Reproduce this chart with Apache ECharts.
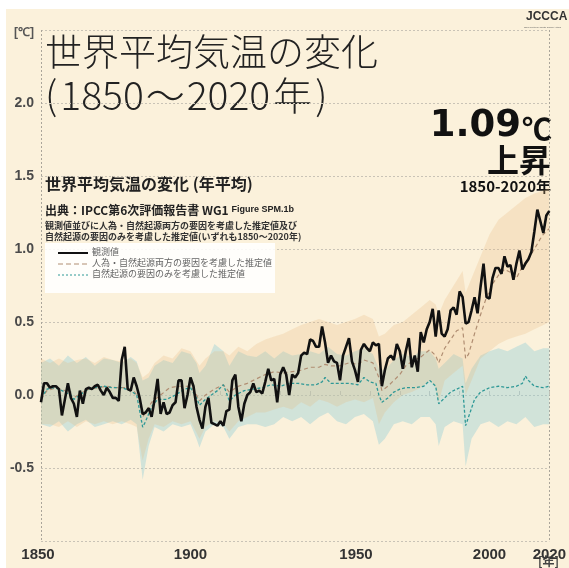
<!DOCTYPE html>
<html><head><meta charset="utf-8">
<script src="https://cdn.jsdelivr.net/npm/echarts@6/dist/echarts.min.js"></script>
<style>
html,body{margin:0;padding:0;background:#fff;}
#bg{position:absolute;left:6px;top:9px;width:563px;height:559px;background:#fbf1db;}
#c{position:absolute;left:0;top:0;width:569px;height:568px;}
</style></head><body>
<div id="bg"></div><div id="c"></div>
<script>
// ---- data ----
const years = [];
for (let y = 1850; y <= 2020; y++) years.push(y);
const observed = [
-0.05,0.08,0.08,0.05,0.06,0.06,0.04,-0.14,-0.03,0.08,
-0.02,-0.06,-0.15,0.03,-0.06,0.04,0.05,0.04,0.06,0.07,
0.03,0.00,0.05,0.02,-0.02,-0.02,-0.04,0.24,0.33,0.04,
0.03,0.12,0.06,-0.02,-0.13,-0.12,-0.09,-0.15,-0.03,0.11,
-0.13,-0.05,-0.13,-0.12,-0.07,-0.05,0.10,0.10,-0.09,0.00,
0.12,0.06,-0.08,-0.17,-0.23,-0.08,-0.02,-0.19,-0.20,-0.21,
-0.18,-0.21,-0.11,-0.10,0.10,0.14,-0.08,-0.18,-0.06,0.00,
0.02,0.08,0.02,0.03,0.01,0.09,0.18,0.10,0.11,-0.05,
0.14,0.19,0.14,0.00,0.14,0.12,0.15,0.27,0.29,0.28,
0.38,0.37,0.33,0.33,0.47,0.36,0.22,0.27,0.23,0.22,
0.10,0.27,0.33,0.39,0.23,0.17,0.09,0.31,0.35,0.32,
0.30,0.36,0.34,0.35,0.06,0.17,0.25,0.27,0.24,0.35,
0.30,0.18,0.30,0.39,0.19,0.27,0.16,0.43,0.36,0.45,
0.50,0.59,0.40,0.58,0.42,0.40,0.45,0.58,0.60,0.55,
0.71,0.67,0.49,0.50,0.58,0.67,0.56,0.74,0.90,0.67,
0.66,0.80,0.87,0.87,0.83,0.95,0.88,0.89,0.79,0.90,
0.99,0.86,0.90,0.93,0.98,1.12,1.27,1.19,1.11,1.23,
1.26];
const humanNaturalYears = [1850,1852,1855,1858,1861,1863,1866,1869,1872,1875,1878,1881,1883,1884,1885,1887,1890,1893,1896,1899,1901,1903,1905,1908,1911,1913,1916,1919,1922,1925,1928,1931,1934,1937,1940,1943,1945,1947,1950,1953,1956,1958,1961,1963,1964,1966,1968,1970,1972,1974,1977,1980,1982,1983,1985,1987,1989,1991,1992,1993,1995,1997,1999,2001,2003,2005,2007,2009,2011,2013,2015,2017,2018,2020];
const humanNaturalValues = [-0.03,0.03,0.05,0.03,-0.02,0.01,0.04,0.05,0.06,0.05,0.05,0.03,-0.03,-0.15,-0.12,-0.05,0.00,0.05,0.06,0.06,0.04,-0.04,0.00,0.04,0.07,0.02,0.06,0.08,0.11,0.14,0.16,0.15,0.16,0.17,0.19,0.19,0.21,0.20,0.20,0.22,0.21,0.24,0.22,0.12,0.03,0.06,0.10,0.14,0.20,0.23,0.26,0.31,0.27,0.22,0.32,0.38,0.44,0.46,0.25,0.28,0.42,0.55,0.67,0.76,0.82,0.86,0.84,0.80,0.88,0.93,1.00,1.07,1.10,1.14];
const naturalYears = [1850,1852,1854,1856,1858,1860,1861,1863,1865,1868,1871,1874,1877,1880,1882,1884,1885,1887,1889,1892,1895,1898,1900,1902,1903,1905,1907,1909,1911,1913,1915,1918,1921,1924,1927,1930,1933,1936,1939,1942,1944,1945,1947,1950,1953,1956,1958,1960,1962,1963,1964,1966,1968,1970,1972,1975,1978,1980,1982,1983,1985,1987,1989,1991,1992,1993,1995,1997,2000,2003,2006,2009,2011,2012,2013,2015,2018,2020];
const naturalValues = [-0.02,0.04,0.05,0.04,0.02,0.00,-0.03,0.00,0.03,0.05,0.06,0.05,0.05,0.03,0.00,-0.22,-0.18,-0.08,-0.03,-0.03,0.00,0.04,0.05,-0.02,-0.07,-0.03,0.00,0.03,0.07,-0.04,0.00,0.03,0.04,0.05,0.07,0.06,0.08,0.08,0.07,0.07,0.09,0.12,0.08,0.08,0.08,0.07,0.12,0.09,0.08,0.00,-0.05,-0.02,0.02,0.04,0.05,0.05,0.06,0.10,0.06,-0.06,-0.02,0.02,0.04,0.06,-0.21,-0.15,-0.03,0.02,0.05,0.06,0.05,0.06,0.08,0.13,0.10,0.06,0.05,0.06];
const naturalBandYears = [1850,1853,1856,1859,1862,1865,1868,1871,1874,1877,1880,1882,1884,1886,1888,1891,1894,1897,1900,1902,1903,1905,1908,1911,1913,1916,1919,1922,1925,1928,1931,1934,1937,1940,1943,1946,1949,1952,1955,1958,1961,1963,1965,1968,1971,1974,1977,1980,1982,1983,1985,1988,1991,1992,1994,1997,2000,2003,2006,2009,2012,2015,2018,2020];
const naturalBandLow = [-0.20,-0.22,-0.18,-0.25,-0.20,-0.17,-0.22,-0.20,-0.18,-0.20,-0.17,-0.20,-0.58,-0.35,-0.22,-0.25,-0.20,-0.22,-0.20,-0.30,-0.36,-0.25,-0.20,-0.22,-0.30,-0.22,-0.20,-0.20,-0.22,-0.20,-0.15,-0.18,-0.15,-0.20,-0.15,-0.12,-0.18,-0.20,-0.15,-0.13,-0.18,-0.34,-0.30,-0.20,-0.18,-0.20,-0.15,-0.15,-0.20,-0.35,-0.22,-0.18,-0.20,-0.49,-0.30,-0.20,-0.18,-0.22,-0.18,-0.20,-0.15,-0.22,-0.20,-0.20];
const naturalBandHigh = [0.22,0.25,0.20,0.27,0.22,0.26,0.20,0.25,0.24,0.22,0.26,0.23,0.10,0.12,0.20,0.24,0.22,0.30,0.28,0.22,0.15,0.20,0.35,0.30,0.20,0.30,0.27,0.26,0.30,0.25,0.30,0.27,0.28,0.30,0.28,0.33,0.28,0.27,0.30,0.32,0.28,0.18,0.17,0.24,0.28,0.26,0.30,0.30,0.25,0.18,0.22,0.28,0.25,0.08,0.18,0.27,0.30,0.32,0.30,0.33,0.36,0.30,0.32,0.32];
const humanBandYears = [1850,1853,1856,1859,1862,1865,1868,1871,1874,1877,1880,1882,1884,1886,1888,1891,1894,1897,1900,1903,1905,1908,1911,1913,1916,1919,1922,1925,1928,1931,1934,1937,1940,1943,1946,1949,1952,1955,1958,1961,1963,1965,1968,1971,1974,1977,1980,1982,1983,1985,1988,1991,1992,1994,1997,2000,2003,2006,2009,2012,2015,2018,2020];
const humanBandLow = [-0.20,-0.20,-0.22,-0.18,-0.22,-0.18,-0.20,-0.18,-0.20,-0.18,-0.20,-0.22,-0.45,-0.30,-0.20,-0.22,-0.18,-0.20,-0.18,-0.30,-0.22,-0.18,-0.20,-0.25,-0.18,-0.15,-0.12,-0.12,-0.10,-0.08,-0.10,-0.05,-0.08,-0.03,-0.05,-0.08,-0.05,-0.03,-0.05,-0.02,-0.20,-0.12,-0.05,0.00,0.02,0.05,0.10,0.05,-0.05,0.10,0.15,0.20,0.00,0.10,0.25,0.30,0.35,0.38,0.40,0.42,0.45,0.48,0.50];
const humanBandHigh = [0.25,0.22,0.25,0.22,0.24,0.25,0.22,0.26,0.24,0.23,0.25,0.22,0.12,0.15,0.22,0.27,0.25,0.32,0.30,0.20,0.25,0.30,0.30,0.27,0.33,0.30,0.35,0.38,0.40,0.42,0.45,0.48,0.50,0.52,0.50,0.48,0.50,0.52,0.55,0.52,0.40,0.42,0.48,0.50,0.55,0.60,0.65,0.62,0.55,0.65,0.75,0.85,0.70,0.80,0.95,1.10,1.20,1.25,1.30,1.35,1.38,1.40,1.42];
const xLabels = [1850, 1900, 1950, 2000, 2020];
const yTicks = [-0.5, 0.0, 0.5, 1.0, 1.5, 2.0];

// ---- chart ----
const chart = echarts.init(document.getElementById('c'), null, {renderer: 'canvas'});
const NUM = '"Liberation Sans Narrow","Arial Narrow","Liberation Sans",sans-serif';
const JP = '"Noto Sans CJK JP",sans-serif';
const GRID = {left: 41, right: 18, top: 30, bottom: 27};

function bandSeries(yrs, lo, hi, fill, z) {
  return {
    type: 'custom', z: z, silent: true,
    data: [[yrs[0], lo[0]]],
    renderItem: function (params, api) {
      const pts = [];
      for (let i = 0; i < yrs.length; i++) pts.push(api.coord([yrs[i], hi[i]]));
      for (let i = yrs.length - 1; i >= 0; i--) pts.push(api.coord([yrs[i], lo[i]]));
      return {type: 'polygon', shape: {points: pts}, style: {fill: fill, stroke: null}};
    }
  };
}
const zip = (a, b) => a.map((v, i) => [v, b[i]]);
const xl = {color: '#333', fontFamily: NUM, fontWeight: 'bold', fontSize: 15};

const legendX = 45, legendY = 243;
chart.setOption({
  animation: false,
  backgroundColor: 'transparent',
  grid: GRID,
  xAxis: [{
    type: 'value', min: 1850, max: 2020, interval: 10,
    axisLine: {show: false},
    axisTick: {show: true, inside: true, length: 4, lineStyle: {color: '#c8c2b4', width: 1}},
    splitLine: {show: false},
    axisLabel: {
      color: '#333', fontFamily: NUM, fontWeight: 'bold', fontSize: 15, margin: 6,
      showMinLabel: true, showMaxLabel: true,
      formatter: v => {
        if (v === 1850) return '{a|1850}';
        if (v === 1950) return '{b|1950}';
        return xLabels.indexOf(v) >= 0 ? '{n|' + v + '}' : '';
      },
      rich: {
        a: Object.assign({padding: [0, 6, 0, 0]}, xl),
        b: Object.assign({padding: [0, 0, 0, 32]}, xl),
        n: Object.assign({}, xl)
      }
    }
  }, {
    type: 'value', min: 1850, max: 2020, interval: 170, position: 'bottom',
    axisLine: {show: false}, axisTick: {show: false}, axisLabel: {show: false},
    splitLine: {show: true, lineStyle: {color: '#aaa59a', type: [2, 2], width: 1}}
  }],
  yAxis: {
    type: 'value', min: -1.0, max: 2.5, interval: 0.5,
    axisLine: {show: false}, axisTick: {show: false},
    splitLine: {show: true, lineStyle: {color: '#c9c3b6', type: [2, 2], width: 1}},
    axisLabel: {
      color: '#4a4a4a', fontFamily: NUM, fontWeight: 'bold', fontSize: 14, margin: 7,
      showMinLabel: true, showMaxLabel: true,
      formatter: v => yTicks.some(t => Math.abs(t - v) < 1e-6) ? v.toFixed(1) : ''
    }
  },
  series: [
    bandSeries(naturalBandYears, naturalBandLow, naturalBandHigh, 'rgba(150,208,214,0.42)', 1),
    bandSeries(humanBandYears, humanBandLow, humanBandHigh, 'rgba(232,185,128,0.26)', 1),
    {type: 'line', z: 3, silent: true, showSymbol: false, data: zip(humanNaturalYears, humanNaturalValues),
      lineStyle: {color: '#b08d72', width: 1.2, type: [4, 3]}},
    {type: 'line', z: 3, silent: true, showSymbol: false, data: zip(naturalYears, naturalValues),
      lineStyle: {color: '#2e9896', width: 1.3, type: [3, 2]}},
    {type: 'line', z: 4, silent: true, showSymbol: false, data: zip(years, observed),
      lineStyle: {color: '#111', width: 2.6}}
  ],
  graphic: [
    {type: 'text', left: 14, top: 27, style: {text: '[℃]', fill: '#555', font: 'bold 12px ' + NUM}},
    {type: 'text', left: 45, top: 33, style: {text: '世界平均気温の変化', fill: '#222', font: '300 37px ' + JP}},
    {type: 'text', left: 45, top: 76, style: {
      text: '{p|(}{d|1850}{t|～}{d|2020}{y|年}{p|)}', fill: '#222',
      rich: {
        p: {font: '300 39px ' + JP, fill: '#222', padding: [0, 3, 0, 3]},
        d: {font: '300 39px ' + JP, fill: '#222'},
        t: {font: '300 39px ' + JP, fill: '#222', padding: [0, 2, 0, 2]},
        y: {font: '300 39px ' + JP, fill: '#222', padding: [0, 0, 0, 3]}
      }
    }},
    {type: 'text', right: 17, top: 108, style: {
      text: '{a|1.09}{b|℃}', fill: '#111',
      rich: {a: {font: 'bold 37px "DejaVu Sans",sans-serif', fill: '#111'},
             b: {font: 'bold 30px ' + JP, fill: '#111', padding: [4, 0, 0, 1]}}
    }},
    {type: 'text', right: 18, top: 144, style: {text: '上昇', fill: '#111', font: 'bold 32px ' + JP}},
    {type: 'text', right: 18, top: 179, style: {text: '1850-2020年', fill: '#111', font: 'bold 15px ' + JP}},
    {type: 'text', left: 45, top: 176, style: {text: '世界平均気温の変化 (年平均)', fill: '#222', font: 'bold 16px ' + JP}},
    {type: 'text', left: 45, top: 204, style: {
      text: '出典：IPCC第6次評価報告書 WG1 {s|Figure SPM.1b}', fill: '#222', font: 'bold 12px ' + JP,
      rich: {s: {font: 'bold 9px "Liberation Sans",sans-serif', fill: '#222'}}
    }},
    {type: 'text', left: 45, top: 221, style: {text: '観測値並びに人為・自然起源両方の要因を考慮した推定値及び', fill: '#333', font: 'bold 9px ' + JP}},
    {type: 'text', left: 45, top: 232, style: {text: '自然起源の要因のみを考慮した推定値(いずれも1850～2020年)', fill: '#333', font: 'bold 9px ' + JP}},
    {type: 'rect', shape: {x: legendX, y: legendY, width: 230, height: 50}, style: {fill: 'rgba(255,255,255,0.88)'}, z: 10},
    {type: 'line', shape: {x1: legendX + 13, y1: legendY + 10, x2: legendX + 43, y2: legendY + 10}, style: {stroke: '#111', lineWidth: 2}, z: 11},
    {type: 'line', shape: {x1: legendX + 13, y1: legendY + 21, x2: legendX + 43, y2: legendY + 21}, style: {stroke: '#b08d72', lineWidth: 1, lineDash: [5, 3]}, z: 11},
    {type: 'line', shape: {x1: legendX + 13, y1: legendY + 32, x2: legendX + 43, y2: legendY + 32}, style: {stroke: '#2e9896', lineWidth: 1, lineDash: [2, 2]}, z: 11},
    {type: 'text', left: legendX + 47, top: legendY + 4, style: {text: '観測値', fill: '#666', font: '9px ' + JP}, z: 11},
    {type: 'text', left: legendX + 47, top: legendY + 15, style: {text: '人為・自然起源両方の要因を考慮した推定値', fill: '#666', font: '9px ' + JP}, z: 11},
    {type: 'text', left: legendX + 47, top: legendY + 26, style: {text: '自然起源の要因のみを考慮した推定値', fill: '#666', font: '9px ' + JP}, z: 11},
    {type: 'text', right: 10, top: 555, style: {text: '[年]', fill: '#444', font: 'bold 12px ' + JP}},
    {type: 'text', left: 526, top: 11, style: {text: 'JCCCA', fill: '#333', font: 'bold 12px ' + NUM}},
    {type: 'text', left: 524, top: 26, style: {text: 'Japan Center for Climate Change Actions', fill: '#555', font: '2px sans-serif'}}
  ]
});
</script>
</body></html>
